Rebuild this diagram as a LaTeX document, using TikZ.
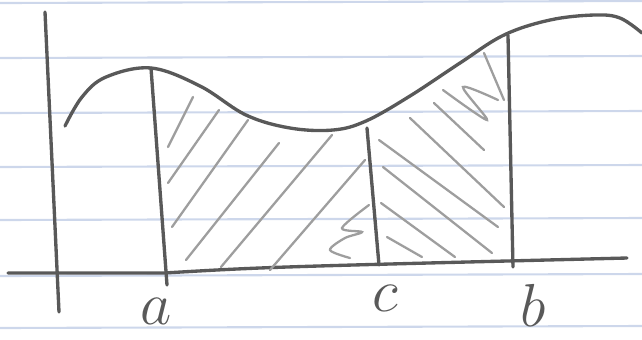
\documentclass[tikz,border=0pt]{standalone}
\usepackage{amsmath, amssymb}
\usepackage{xcolor}
\usepackage{tikz}
\usetikzlibrary{calc}

\definecolor{pencil}{gray}{0.35}
\definecolor{shade}{gray}{0.62}
\definecolor{ruled}{RGB}{205,215,235}

\tikzset{
    mainline/.style={draw=pencil, line width=0.95pt, line cap=round, line join=round},
    hatch/.style={draw=shade, line width=0.65pt, line cap=round},
    ruleline/.style={draw=ruled, line width=0.6pt},
    letter/.style={text=pencil, inner sep=0pt, font=\fontsize{19}{21}\selectfont}
}

\begin{document}
\begin{tikzpicture}[x=0.1mm, y=-0.1mm]
    \useasboundingbox (0,0) rectangle (642,339);

    % 0. Giấy kẻ dòng
    \foreach \h in {3,58,113,167,220,276,328}
        \draw[ruleline] (0,\h) -- (642,\h-2);

    % 1. Hệ trục tọa độ
    \coordinate (O1) at (8,273);
    \coordinate (O2) at (627,258);
    \draw[mainline] (O1) -- (164,273) .. controls (266,267) .. (O2);
    \draw[mainline] (45,12) -- (59,312);

    % 2. Vẽ đồ thị hàm số
    \draw[mainline] plot[smooth, tension=0.6] coordinates {
        (65,126) (82,97) (106,77) (151,68) (200,86) (246,115)
        (290,128) (333,130) (366,121) (410,96) (460,63) (504,35)
        (550,20) (594,15) (620,18) (642,33)};

    % 3. Các đường thẳng đứng
    \coordinate (Atop) at (151,68);
    \coordinate (Abot) at (167,285);
    \coordinate (Ctop) at (367,128);
    \coordinate (Cbot) at (379,265);
    \coordinate (Btop) at (508,35);
    \coordinate (Bbot) at (513,267);
    \draw[mainline] (Atop) -- (Abot);
    \draw[mainline] (Ctop) -- (Cbot);
    \draw[mainline] (Btop) -- (Bbot);

    % 4. Gạch chéo từ a đến c
    \draw[hatch] (168,147) -- (193,97);
    \draw[hatch] (168,183) -- (219,110);
    \draw[hatch] (172,227) -- (248,120);
    \draw[hatch] (186,260) -- (279,143);
    \draw[hatch] (221,267) -- (332,135);
    \draw[hatch] (270,270) -- (365,160);
    \draw[hatch] plot[smooth] coordinates {(350,258) (330,250) (345,238) (362,232) (342,228) (369,205)};

    % 5. Gạch chéo từ c đến b
    \draw[hatch] (387,237) -- (422,257);
    \draw[hatch] (381,203) -- (455,257);
    \draw[hatch] (383,167) -- (492,253);
    \draw[hatch] (379,140) -- (498,227);
    \draw[hatch] (410,118) -- (504,207);
    \draw[hatch] (434,103) -- (484,150);
    \draw[hatch] plot[smooth] coordinates {(443,90) (487,120) (463,87) (498,100)};
    \draw[hatch] (484,53) -- (504,100);

    % 6. Nhãn
    \node[letter] (la) at (156,311) {$a$};
    \node[letter] (lc) at (385,298) {$c$};
    \node[letter] (lb) at (533,305) {$b$};
\end{tikzpicture}
\end{document}
